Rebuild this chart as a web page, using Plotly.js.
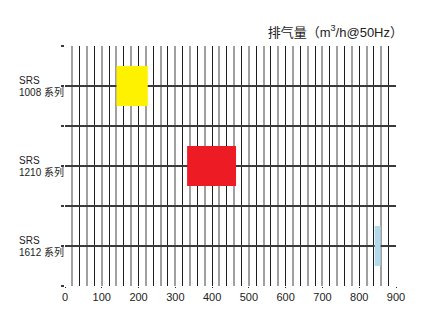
<!DOCTYPE html>
<html>
<head>
<meta charset="utf-8">
<script src="https://cdn.plot.ly/plotly-3.0.1.min.js"></script>
<style>html,body{margin:0;padding:0;background:#fff;}#chart{width:447px;height:332px;}</style>
</head>
<body>
<div id="chart"></div>
<script>
// Data
var categories = ["SRS 1008 系列", "SRS 1210 系列", "SRS 1612 系列"];
var labelLine1 = ["SRS", "SRS", "SRS"];
var labelLine2 = ["1008 系列", "1210 系列", "1612 系列"];
var rangeStart = [140, 332, 842];
var rangeEnd = [225, 465, 858];
var barColors = ["#fff200", "#ed1c24", "#b3d9ec"];
var xTickVals = [0, 100, 200, 300, 400, 500, 600, 700, 800, 900];
var titleText = "排气量（m<sup>3</sup>/h@50Hz）";

var font = "Liberation Sans, Arial, Noto Sans CJK SC, sans-serif";
var yPos = categories.map(function (c, i) { return i; });
var lengths = rangeEnd.map(function (e, i) { return e - rangeStart[i]; });

var trace = {
  type: "bar",
  orientation: "h",
  y: yPos,
  x: lengths,
  base: rangeStart,
  width: 0.5,
  marker: { color: barColors, line: { width: 0 } },
  hoverinfo: "skip",
  xaxis: "x",
  yaxis: "y"
};
// invisible trace to activate the label axis
var dummy = { type: "scatter", x: [0, 900], y: [0, 0], mode: "none", xaxis: "x2", yaxis: "y", hoverinfo: "skip" };

var annotations = [];
yPos.forEach(function (y, i) {
  annotations.push({ xref: "paper", yref: "y", x: 0, y: y, xshift: -48, yshift: 5.5, xanchor: "left", yanchor: "middle",
    text: labelLine1[i], showarrow: false, font: { family: font, size: 10, color: "#222" } });
  annotations.push({ xref: "paper", yref: "y", x: 0, y: y, xshift: -48, yshift: -5.5, xanchor: "left", yanchor: "middle",
    text: labelLine2[i], showarrow: false, font: { family: font, size: 10, color: "#222" } });
});

var layout = {
  width: 447, height: 332,
  margin: { l: 65, r: 51, t: 46, b: 46 },
  paper_bgcolor: "#fff", plot_bgcolor: "#fff",
  showlegend: false,
  title: { text: titleText, xref: "container", yref: "container", x: 403 / 447, xanchor: "right", y: 1 - 32 / 332, yanchor: "middle",
    font: { family: font, size: 13, color: "#222" } },
  xaxis: {
    range: [0, 900], tick0: 0, dtick: 40, showticklabels: false, ticks: "",
    showgrid: true, gridcolor: "#1e1e1e", gridwidth: 1,
    minor: { tick0: 0, dtick: 20, showgrid: true, gridcolor: "#a0a0a0", gridwidth: 2, ticks: "" },
    zeroline: false, showline: false, fixedrange: true
  },
  xaxis2: {
    overlaying: "x", side: "bottom", range: [0, 900], tickmode: "array", tickvals: xTickVals, ticktext: xTickVals.map(String),
    showgrid: false, zeroline: false, showline: false,
    ticks: "outside", ticklen: 1, tickcolor: "#222", tickwidth: 1,
    tickfont: { family: font, size: 11, color: "#222" }, fixedrange: true
  },
  yaxis: {
    range: [2.5, -0.5], tick0: 0.5, dtick: 0.5, showticklabels: false,
    showgrid: true, gridcolor: "#3a3a3a", gridwidth: 2, zeroline: false, showline: false,
    ticks: "outside", ticklen: 3, tickcolor: "#3a3a3a", tickwidth: 2, fixedrange: true
  },
  annotations: annotations
};

Plotly.newPlot("chart", [trace, dummy], layout, { displayModeBar: false, staticPlot: true });
</script>
</body>
</html>
